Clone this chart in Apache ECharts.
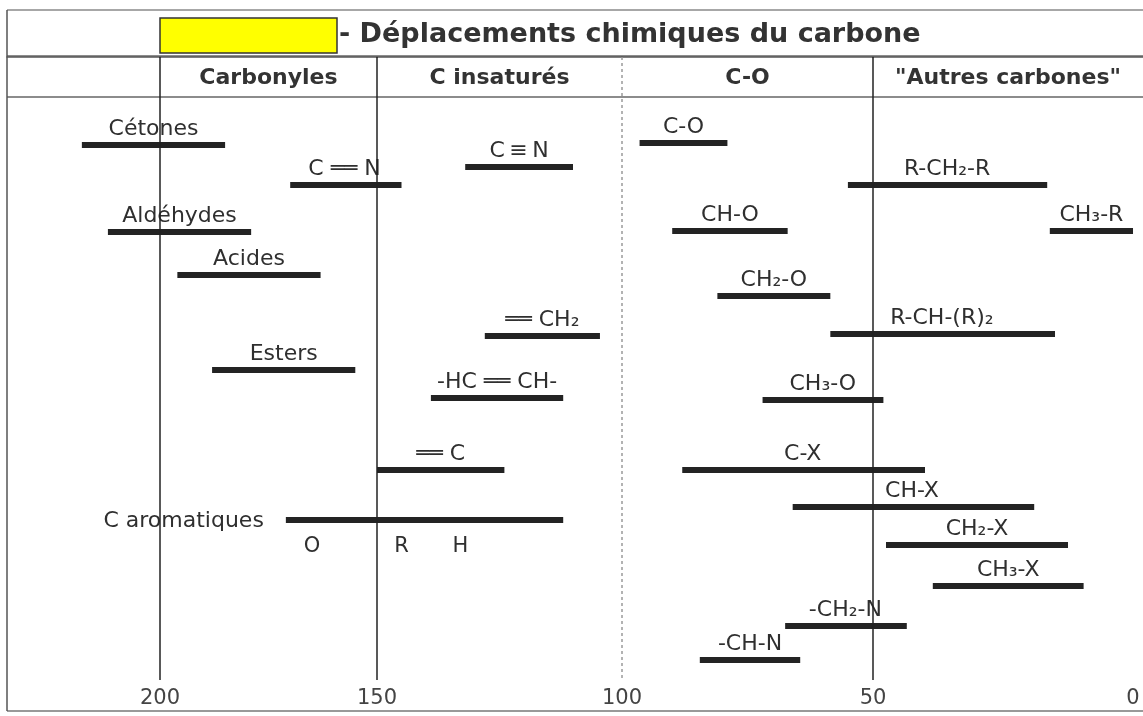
<!DOCTYPE html>
<html>
<head>
<meta charset="utf-8">
<script src="https://cdn.jsdelivr.net/npm/echarts@6/dist/echarts.min.js"></script>
<style>
  html, body { margin: 0; padding: 0; background: #ffffff; }
  #chart { width: 1143px; height: 716px; }
</style>
</head>
<body>
<div id="chart"></div>
<script>
// Domaines de déplacement chimique du carbone 13 (ppm)
const groupes = ['Cétones', 'C ══ N', 'C\u2009≡\u2009N', 'Aldéhydes', 'Acides', 'Esters',
  '══ CH₂', '-HC ══ CH-', '══ C', 'C aromatiques',
  'C-O', 'R-CH₂-R', 'CH₃-R', 'CH-O', 'CH₂-O', 'R-CH-(R)₂', 'CH₃-O',
  'C-X', 'CH-X', 'CH₂-X', 'CH₃-X', '-CH₂-N', '-CH-N'];
const debuts = [218, 170, 132, 212, 196, 188, 128, 139, 150, 171,
  96.5, 55, 16, 90, 81, 58.5, 72, 88, 66, 47.5, 38.5, 67.5, 84.5];
const fins = [185, 145, 110, 179, 163, 155, 104.5, 112, 124, 112,
  79, 16.5, 0, 67, 58.5, 15, 48, 40, 19, 12.5, 9.5, 43.5, 64.5];
// ligne verticale occupée par chaque domaine (0 = haut du tableau)
const lignes = [8.8, 12.8, 11.0, 17.5, 21.8, 31.3, 27.9, 34.1, 41.3, 46.3,
  8.6, 12.8, 17.4, 17.4, 23.9, 27.7, 34.3, 41.3, 45.0, 48.8, 52.9, 56.9, 60.3];
// substituants du carbone aromatique
const substituants = ['O', 'R', 'H'];
const substituantsPpm = [165, 145, 133];
const graduations = [200, 150, 100, 50, 0];
const familles = ['Carbonyles', 'C insaturés', 'C-O', '"Autres carbones"'];

// Échelle en ppm découpée en tronçons linéaires (un grid par tronçon)
const bords = [7, 160, 377, 622, 873, 1143];
const etendues = [[200, 235.25], [150, 200], [100, 150], [50, 100], [-1.92, 50]];
const POLICE = 'DejaVu Sans';
const AGAUCHE = 'C aromatiques';

const chart = echarts.init(document.getElementById('chart'), null, { renderer: 'canvas' });

// tronçon qui affiche une valeur (bord gauche inclus)
function proprietaire(v) {
  for (let g = 0; g < etendues.length; g++) {
    if (v > etendues[g][0] && v <= etendues[g][1]) return g;
  }
  return etendues.length - 1;
}

function renduDomaines(g) {
  const [lo, hi] = etendues[g];
  return function (params, api) {
    const i = params.dataIndex;
    const a = Math.max(debuts[i], fins[i]);
    const b = Math.min(debuts[i], fins[i]);
    const enfants = [];
    const segHaut = Math.min(a, hi), segBas = Math.max(b, lo);
    if (segHaut > segBas) {
      const p1 = api.coord([segHaut, lignes[i]]);
      const p2 = api.coord([segBas, lignes[i]]);
      enfants.push({
        type: 'rect',
        shape: { x: p1[0], y: p1[1] - 3, width: p2[0] - p1[0], height: 6 },
        style: { fill: '#232323' }
      });
    }
    const gauche = groupes[i] === AGAUCHE;
    const ancre = gauche ? a : (a + b) / 2;
    if (proprietaire(ancre) === g) {
      const p = api.coord([ancre, lignes[i]]);
      enfants.push({
        type: 'text',
        x: gauche ? p[0] - 22 : p[0],
        y: gauche ? p[1] + 1 : p[1] - 5,
        style: {
          text: groupes[i], fontFamily: POLICE, fontSize: 22, fill: '#2f2f2f',
          align: gauche ? 'right' : 'center', verticalAlign: gauche ? 'middle' : 'bottom'
        }
      });
    }
    return { type: 'group', children: enfants };
  };
}

function renduSubstituants(g) {
  const iArom = groupes.indexOf(AGAUCHE);
  return function (params, api) {
    const i = params.dataIndex;
    const v = substituantsPpm[i];
    if (proprietaire(v) !== g) return null;
    const p = api.coord([v, lignes[iArom]]);
    return {
      type: 'text', x: p[0], y: p[1] + 27,
      style: { text: substituants[i], fontFamily: POLICE, fontSize: 21, fill: '#2f2f2f', align: 'center', verticalAlign: 'middle' }
    };
  };
}

const grids = [], xAxes = [], yAxes = [], series = [];
etendues.forEach(([lo, hi], g) => {
  grids.push({ left: bords[g], width: bords[g + 1] - bords[g], top: 57, bottom: 36 });
  const ticks = graduations.filter(v => v > lo && v <= hi);
  xAxes.push({
    type: 'value', gridIndex: g, inverse: true, min: lo, max: hi,
    axisLine: { show: true, lineStyle: { color: '#555', width: 1.5 } },
    axisTick: { show: false },
    splitLine: { show: false },
    axisLabel: {
      show: ticks.length > 0, customValues: ticks, showMinLabel: true, showMaxLabel: true,
      fontFamily: POLICE, fontSize: 21, color: '#444', margin: 8
    }
  });
  yAxes.push({ type: 'value', gridIndex: g, min: 0, max: 62.3, inverse: true, show: false });

  const s = {
    type: 'custom', xAxisIndex: g, yAxisIndex: g,
    data: groupes.map((n, i) => [debuts[i], fins[i], lignes[i]]),
    encode: { x: [0, 1], y: 2 },
    renderItem: renduDomaines(g),
    silent: true
  };
  if (g > 0) {
    const trait = hi === 100
      ? { color: '#9a9a9a', width: 1.5, type: [3, 3] }
      : { color: '#222', width: 1.5, type: 'solid' };
    s.markLine = {
      silent: true, symbol: ['none', 'none'], label: { show: false },
      lineStyle: trait, data: [{ xAxis: hi }], animation: false
    };
  }
  series.push(s);
  series.push({
    type: 'custom', xAxisIndex: g, yAxisIndex: g,
    data: substituantsPpm.map(v => [v, lignes[groupes.indexOf(AGAUCHE)]]),
    renderItem: renduSubstituants(g),
    silent: true
  });
});

chart.setOption({
  animation: false,
  backgroundColor: '#ffffff',
  grid: grids,
  xAxis: xAxes,
  yAxis: yAxes,
  series: series
});

// Cadre du tableau, bandeau de titre et en-têtes des familles
const xPix = (v) => chart.convertToPixel({ xAxisIndex: proprietaire(v) }, v);
const limites = [200, 150, 100, 50];
const gaucheFam = limites.map(xPix);
const droiteFam = gaucheFam.slice(1).concat([bords[5]]);
const traits = [
  { x1: 7, y1: 10, x2: 1143, y2: 10, c: '#8a8a8a' },
  { x1: 7, y1: 56, x2: 1143, y2: 56, c: '#666' },
  { x1: 7, y1: 97, x2: 1143, y2: 97, c: '#666' },
  { x1: 7, y1: 711, x2: 1143, y2: 711, c: '#777' },
  { x1: 7, y1: 10, x2: 7, y2: 711, c: '#555' }
];
const graphic = traits.map(t => ({
  type: 'line', silent: true,
  shape: { x1: t.x1, y1: t.y1, x2: t.x2, y2: t.y2 },
  style: { stroke: t.c, lineWidth: 1.5 }
}));
graphic.push({
  type: 'rect', silent: true,
  shape: { x: gaucheFam[0], y: 18, width: 177, height: 35 },
  style: { fill: '#ffff00', stroke: '#333', lineWidth: 1.5 }
});
graphic.push({
  type: 'text', silent: true, x: gaucheFam[0] + 179, y: 35,
  style: { text: '- Déplacements chimiques du carbone', fontFamily: POLICE, fontWeight: 'bold',
    fontSize: 27, fill: '#333', align: 'left', verticalAlign: 'middle' }
});
familles.forEach((f, k) => {
  graphic.push({
    type: 'text', silent: true, x: (gaucheFam[k] + droiteFam[k]) / 2, y: 78,
    style: { text: f, fontFamily: POLICE, fontWeight: 'bold', fontSize: 22, fill: '#333',
      align: 'center', verticalAlign: 'middle' }
  });
});
chart.setOption({ graphic: graphic });
</script>
</body>
</html>
